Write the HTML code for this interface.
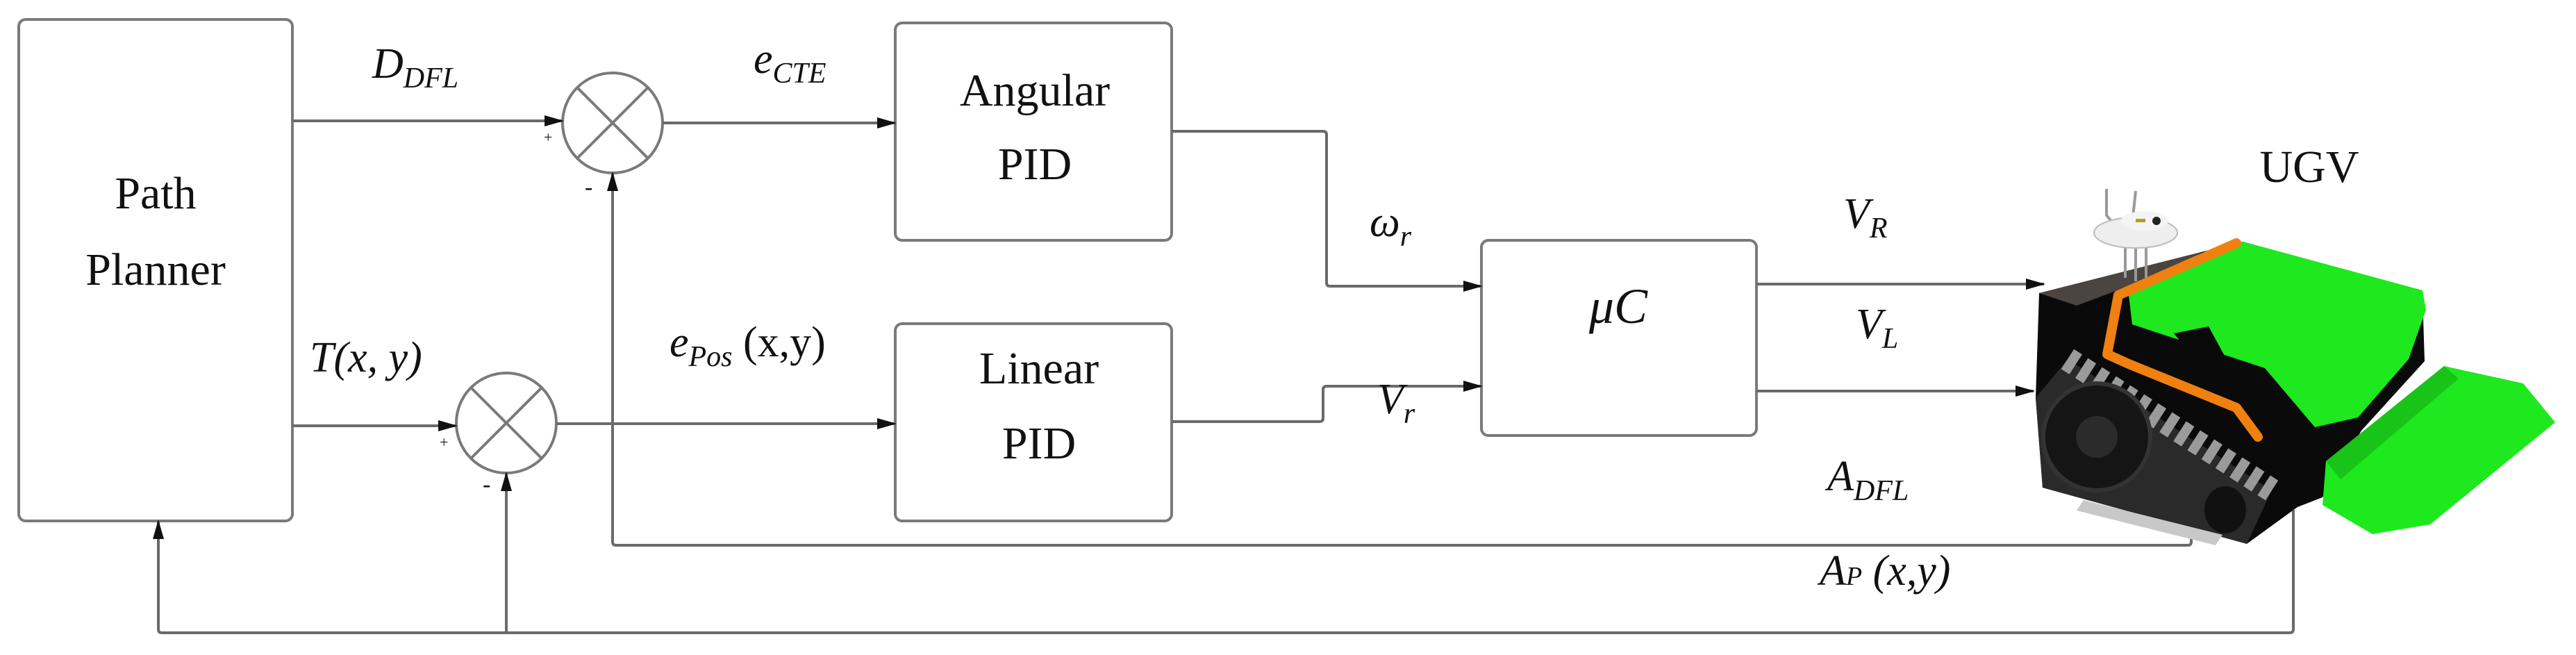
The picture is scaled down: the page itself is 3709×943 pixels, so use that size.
<!DOCTYPE html>
<html><head><meta charset="utf-8"><style>
html,body{margin:0;padding:0;background:#fff;}
svg{display:block;}
.m{font-family:"Liberation Serif",serif;font-style:italic;fill:#111;}
.t{font-family:"Liberation Serif",serif;fill:#111;}
</style></head><body>
<svg width="3709" height="943" viewBox="0 0 3709 943" xmlns="http://www.w3.org/2000/svg">
<defs>
<marker id="a" markerWidth="28" markerHeight="18" refX="26" refY="9" orient="auto" markerUnits="userSpaceOnUse">
<path d="M0,1 L28,9 L0,17 Z" fill="#111"/></marker>
</defs>
<g fill="none" stroke="#7a7a7a" stroke-width="4">
<!-- boxes -->
<rect x="27" y="28" width="394" height="722" rx="10"/>
<rect x="1289" y="33" width="398" height="313" rx="10"/>
<rect x="1289" y="466" width="398" height="284" rx="10"/>
<rect x="2133" y="346" width="396" height="281" rx="10"/>
<!-- summers -->
<circle cx="882" cy="177" r="72"/>
<line x1="831" y1="126" x2="933" y2="228"/><line x1="933" y1="126" x2="831" y2="228"/>
<circle cx="729" cy="609" r="72"/>
<line x1="678" y1="558" x2="780" y2="660"/><line x1="780" y1="558" x2="678" y2="660"/>
</g>
<g fill="none" stroke="#6a6a6a" stroke-width="4">
<path d="M421,174 H810" marker-end="url(#a)"/>
<path d="M954,177 H1289" marker-end="url(#a)"/>
<path d="M421,613 H657" marker-end="url(#a)"/>
<path d="M801,610 H1289" marker-end="url(#a)"/>
<path d="M1687,189 H1905 Q1910,189 1910,194 V407 Q1910,412 1915,412 H2133" marker-end="url(#a)"/>
<path d="M1687,607 H1900 Q1905,607 1905,602 V561 Q1905,556 1910,556 H2133" marker-end="url(#a)"/>
<path d="M2529,409 H2943" marker-end="url(#a)"/>
<path d="M2529,563 H2928" marker-end="url(#a)"/>
<path d="M3155,764 V780 Q3155,785 3150,785 H887 Q882,785 882,780 V249" marker-end="url(#a)"/>
<path d="M3302,734 V906 Q3302,911 3297,911 H233 Q228,911 228,906 V750" marker-end="url(#a)"/>
<path d="M729,911 V681" marker-end="url(#a)"/>
</g>
<!-- small signs -->
<text x="783" y="205" class="t" font-size="22" fill="#999">+</text>
<text x="842" y="280" class="t" font-size="34">-</text>
<text x="633" y="644" class="t" font-size="22" fill="#999">+</text>
<text x="695" y="708" class="t" font-size="34">-</text>
<!-- block texts -->
<text x="224" y="300" class="t" font-size="66" text-anchor="middle">Path</text>
<text x="224" y="410" class="t" font-size="66" text-anchor="middle">Planner</text>
<text x="1490" y="152" class="t" font-size="66" text-anchor="middle">Angular</text>
<text x="1490" y="258" class="t" font-size="66" text-anchor="middle">PID</text>
<text x="1496" y="552" class="t" font-size="66" text-anchor="middle">Linear</text>
<text x="1496" y="660" class="t" font-size="66" text-anchor="middle">PID</text>
<text x="2330" y="465" class="m" font-size="72" text-anchor="middle">μC</text>
<text x="3325" y="262" class="t" font-size="66" text-anchor="middle">UGV</text>
<!-- math labels -->
<text x="536" y="112" class="m" font-size="62">D<tspan font-size="42" dy="14">DFL</tspan></text>
<text x="1085" y="105" class="m" font-size="62">e<tspan font-size="42" dy="14">CTE</tspan></text>
<text x="446" y="535" class="m" font-size="62">T(x, y)</text>
<text x="964" y="513" class="m" font-size="62">e<tspan font-size="42" dy="14">Pos</tspan><tspan dy="-14" font-style="normal"> (x,y)</tspan></text>
<text x="1972" y="340" class="m" font-size="62">ω<tspan font-size="42" dy="14">r</tspan></text>
<text x="1983" y="595" class="m" font-size="62">V<tspan font-size="42" dy="14">r</tspan></text>
<text x="2654" y="328" class="m" font-size="62">V<tspan font-size="42" dy="14">R</tspan></text>
<text x="2672" y="487" class="m" font-size="62">V<tspan font-size="42" dy="14">L</tspan></text>
<text x="2631" y="706" class="m" font-size="62">A<tspan font-size="42" dy="14">DFL</tspan></text>
<text x="2620" y="842" class="m" font-size="62">A<tspan font-size="38">P</tspan> (x,y)</text>
<!-- robot -->
<g>
<polygon points="2936,422 3173,362 3230,348 3488,425 3491,520 3400,620 3344,716 3308,730 3235,783 2941,702 2931,573" fill="#0a0a0a"/>
<polygon points="2936,422 3173,362 3110,395 2990,440" fill="#4a4540"/>
<polygon points="3065,425 3230,348 3488,418 3493,446 3468,517 3395,601 3333,615 3261,530 3070,467" fill="#1ee81e"/>
<polygon points="3130,480 3180,470 3210,525 3170,530" fill="#0a0a0a"/>
<polygon points="3349,664 3519,527 3633,552 3679,608 3499,755 3416,769 3344,727" fill="#1ee81e"/>
<polygon points="3349,664 3519,527 3540,545 3370,690" fill="#18c418"/>
<polygon points="2931,573 2977,517 3271,706 3235,783 2941,702" fill="#2a2a2a"/>
<path d="M2977,517 L3271,706" stroke="#9a9a9a" stroke-width="34" stroke-dasharray="14,10" fill="none"/>
<circle cx="3019" cy="629" r="77" fill="#151515" stroke="#333" stroke-width="6"/>
<circle cx="3019" cy="629" r="30" fill="#2b2b2b"/>
<ellipse cx="3204" cy="734" rx="30" ry="34" fill="#111"/>
<polygon points="3000,720 3200,770 3190,785 2990,735" fill="#c8c8c8"/>
<path d="M3220,350 L3050,425 L3034,510 L3065,524 L3220,587 L3251,629" stroke="#f08010" stroke-width="14" fill="none" stroke-linejoin="round" stroke-linecap="round"/>
<g stroke="#999" stroke-width="4" fill="none">
<path d="M3033,272 V310 L3050,330 L3070,322 L3075,275"/>
<path d="M3060,350 V400 M3075,350 V405 M3090,345 V400"/>
</g>
<ellipse cx="3075" cy="335" rx="60" ry="22" fill="#eee" stroke="#bbb" stroke-width="2"/>
<ellipse cx="3088" cy="318" rx="34" ry="14" fill="#f4f4f4"/>
<circle cx="3105" cy="318" r="6" fill="#222"/>
<rect x="3075" y="315" width="14" height="5" fill="#b8a020"/>
</g>
</svg>
</body></html>
